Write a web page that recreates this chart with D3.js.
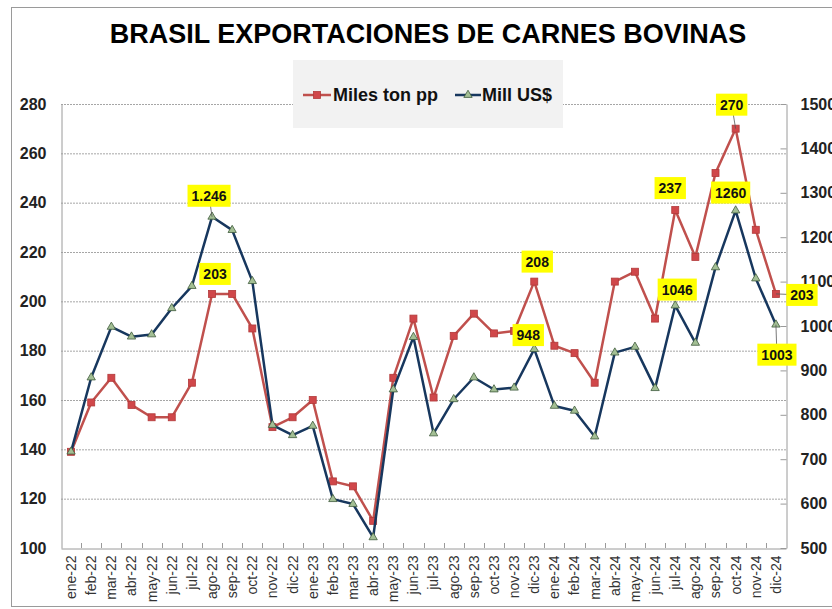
<!DOCTYPE html>
<html>
<head>
<meta charset="utf-8">
<script src="https://cdn.jsdelivr.net/npm/d3@7"></script>
<style>
  body { margin: 0; background: #fff; }
  svg { display: block; font-family: "Liberation Sans", Arial, sans-serif; }
</style>
</head>
<body>
<svg id="chart" width="832" height="609"></svg>
<script>
let months = ["ene-22","feb-22","mar-22","abr-22","may-22","jun-22","jul-22","ago-22","sep-22","oct-22","nov-22","dic-22",
              "ene-23","feb-23","mar-23","abr-23","may-23","jun-23","jul-23","ago-23","sep-23","oct-23","nov-23","dic-23",
              "ene-24","feb-24","mar-24","abr-24","may-24","jun-24","jul-24","ago-24","sep-24","oct-24","nov-24","dic-24"]

// Miles ton pp (eje izquierdo)
let milesTon = [139,159,169,158,153,153,167,203,203,189,149,153,
                160,127,125,111,169,193,161,186,195,187,188,208,
                182,179,167,208,212,193,237,218,252,270,229,203]

// Mill US$ (eje derecho)
let millUS = [717,884,998,976,981,1040,1090,1246,1216,1101,777,754,
              775,610,599,524,857,975,758,835,884,857,861,948,
              820,809,751,940,953,860,1046,962,1132,1260,1107,1003]

let leftTicks = [100,120,140,160,180,200,220,240,260,280]
let rightTicks = [500,600,700,800,900,1000,1100,1200,1300,1400,1500]

// etiquetas amarillas
let labels = [
  {serie: "ton", i: 7, text: "203"},
  {serie: "us", i: 7, text: "1.246"},
  {serie: "ton", i: 23, text: "208"},
  {serie: "us", i: 23, text: "948"},
  {serie: "ton", i: 30, text: "237"},
  {serie: "us", i: 30, text: "1046"},
  {serie: "ton", i: 33, text: "270"},
  {serie: "us", i: 33, text: "1260"},
  {serie: "ton", i: 35, text: "203"},
  {serie: "us", i: 35, text: "1003"}
]
// desplazamientos de cada etiqueta (mismo orden)
let offsets = [[3,-20,0],[-3,-21,1],[3,-20,0],[-6,-14,0],[-5,-22,0],[2,-16,0],[-4,-24,1],[-5,-18,0],[26,1,1],[1,30,1]]

let red = "#c0504d"
let navy = "#17375e"

let svg = d3.select("#chart")
let pLeft = 61, pRight = 786, pTop = 104, pBottom = 548

let x = d3.scaleBand().domain(months).range([pLeft, pRight])
let yL = d3.scaleLinear().domain([100, 280]).range([pBottom, pTop])
let yR = d3.scaleLinear().domain([500, 1500]).range([pBottom, pTop])
let cx = (m) => x(m) + x.bandwidth() / 2

// borde del grafico
svg.append("rect")
  .attr("x", 11.5).attr("y", 7.5)
  .attr("width", 840).attr("height", 599)
  .attr("fill", "none").attr("stroke", "#9a9a9a")

// titulo
svg.append("text")
  .attr("x", 428).attr("y", 43)
  .attr("text-anchor", "middle")
  .style("font-size", "27px").style("font-weight", "bold")
  .attr("fill", "#000")
  .text("BRASIL EXPORTACIONES DE CARNES BOVINAS")

// grilla
svg.append("g")
  .selectAll("line")
  .data(leftTicks.slice(1))
  .enter()
  .append("line")
  .attr("x1", pLeft).attr("x2", pRight)
  .attr("y1", d => yL(d) + 0.5).attr("y2", d => yL(d) + 0.5)
  .attr("stroke", "#a6a6a6")
  .attr("stroke-dasharray", "2,1")

// eje izquierdo
let axL = svg.append("g")
  .attr("transform", `translate(${pLeft + 0.5},0)`)
  .call(d3.axisLeft(yL).tickValues(leftTicks).tickSize(0).tickPadding(15))
axL.select(".domain").attr("stroke", "#9a9a9a")
axL.selectAll("text").style("font-size", "16px").style("font-weight", "bold").attr("fill", "#222")

// eje derecho
let axR = svg.append("g")
  .attr("transform", `translate(${pRight + 0.5},0)`)
  .call(d3.axisRight(yR).tickValues(rightTicks).tickFormat(d3.format("d"))
    .tickSizeInner(-6).tickSizeOuter(0).tickPadding(14))
axR.select(".domain").attr("stroke", "#9a9a9a")
axR.selectAll("line").attr("stroke", "#9a9a9a")
axR.selectAll("text").style("font-size", "16px").style("font-weight", "bold").attr("fill", "#222")

// eje x
let axX = svg.append("g")
  .attr("transform", `translate(0,${pBottom + 0.5})`)
  .call(d3.axisBottom(x).tickSize(0).tickPadding(0))
axX.select(".domain").attr("stroke", "#9a9a9a")
axX.selectAll("text")
  .style("font-size", "14px").attr("fill", "#333")
  .attr("text-anchor", "end")
  .attr("transform", "rotate(-90)")
  .attr("x", -7).attr("y", 0).attr("dy", "0.35em")
svg.append("g")
  .selectAll("line")
  .data(months.slice(1))
  .enter()
  .append("line")
  .attr("x1", d => Math.round(x(d)) + 0.5).attr("x2", d => Math.round(x(d)) + 0.5)
  .attr("y1", pBottom - 5).attr("y2", pBottom)
  .attr("stroke", "#9a9a9a")

// lineas
let lineTon = d3.line().x((d, i) => cx(months[i])).y(d => yL(d))
let lineUS = d3.line().x((d, i) => cx(months[i])).y(d => yR(d))

svg.append("path")
  .datum(milesTon)
  .attr("d", lineTon)
  .attr("fill", "none").attr("stroke", red).attr("stroke-width", 2.5)
  .attr("stroke-linejoin", "round")

svg.append("g")
  .selectAll("rect")
  .data(milesTon)
  .enter()
  .append("rect")
  .attr("x", (d, i) => cx(months[i]) - 3.5)
  .attr("y", d => yL(d) - 3.5)
  .attr("width", 7).attr("height", 7)
  .attr("fill", "#d0474a").attr("stroke", "#b23a3a").attr("stroke-width", 0.8)

svg.append("path")
  .datum(millUS)
  .attr("d", lineUS)
  .attr("fill", "none").attr("stroke", navy).attr("stroke-width", 2.5)
  .attr("stroke-linejoin", "round")

let tri = d3.symbol().type(d3.symbolTriangle).size(30)
svg.append("g")
  .selectAll("path")
  .data(millUS)
  .enter()
  .append("path")
  .attr("d", tri)
  .attr("transform", (d, i) => `translate(${cx(months[i])},${yR(d)})`)
  .attr("fill", "#a3bf94").attr("stroke", "#3f5a3c").attr("stroke-width", 0.8)

// etiquetas
labels.forEach((lb, k) => {
  let px = cx(months[lb.i])
  let py = lb.serie === "ton" ? yL(milesTon[lb.i]) : yR(millUS[lb.i])
  let [dx, dy, lead] = offsets[k]
  let tx = px + dx, ty = py + dy
  if (lead) {
    svg.append("line")
      .attr("x1", px).attr("y1", py)
      .attr("x2", tx).attr("y2", ty)
      .attr("stroke", "#555").attr("stroke-width", 0.8)
  }
  let t = svg.append("text")
    .attr("x", tx).attr("y", ty)
    .attr("text-anchor", "middle").attr("dy", "0.36em")
    .style("font-size", "14px").style("font-weight", "bold")
    .attr("fill", "#111")
    .text(lb.text)
  let w = t.node().getComputedTextLength()
  svg.insert("rect", () => t.node())
    .attr("x", tx - w / 2 - 4).attr("y", ty - 11)
    .attr("width", w + 8).attr("height", 22)
    .attr("fill", "#ffff00")
})

// leyenda
let lg = svg.append("g")
lg.append("rect")
  .attr("x", 293).attr("y", 60).attr("width", 270).attr("height", 68)
  .attr("fill", "#f2f2f2")
lg.append("line").attr("x1", 303).attr("x2", 331).attr("y1", 95).attr("y2", 95)
  .attr("stroke", red).attr("stroke-width", 2.5)
lg.append("rect").attr("x", 313.5).attr("y", 91.5).attr("width", 7).attr("height", 7)
  .attr("fill", "#d0474a").attr("stroke", "#b23a3a").attr("stroke-width", 0.8)
lg.append("text").attr("x", 333).attr("y", 95).attr("dy", "0.36em")
  .style("font-size", "18px").style("font-weight", "bold").attr("fill", "#111")
  .text("Miles ton pp")
lg.append("line").attr("x1", 455).attr("x2", 481).attr("y1", 95).attr("y2", 95)
  .attr("stroke", navy).attr("stroke-width", 2.5)
lg.append("path").attr("d", tri).attr("transform", "translate(468,95)")
  .attr("fill", "#a3bf94").attr("stroke", "#3f5a3c").attr("stroke-width", 0.8)
lg.append("text").attr("x", 482).attr("y", 95).attr("dy", "0.36em")
  .style("font-size", "18px").style("font-weight", "bold").attr("fill", "#111")
  .text("Mill US$")
</script>
</body>
</html>
